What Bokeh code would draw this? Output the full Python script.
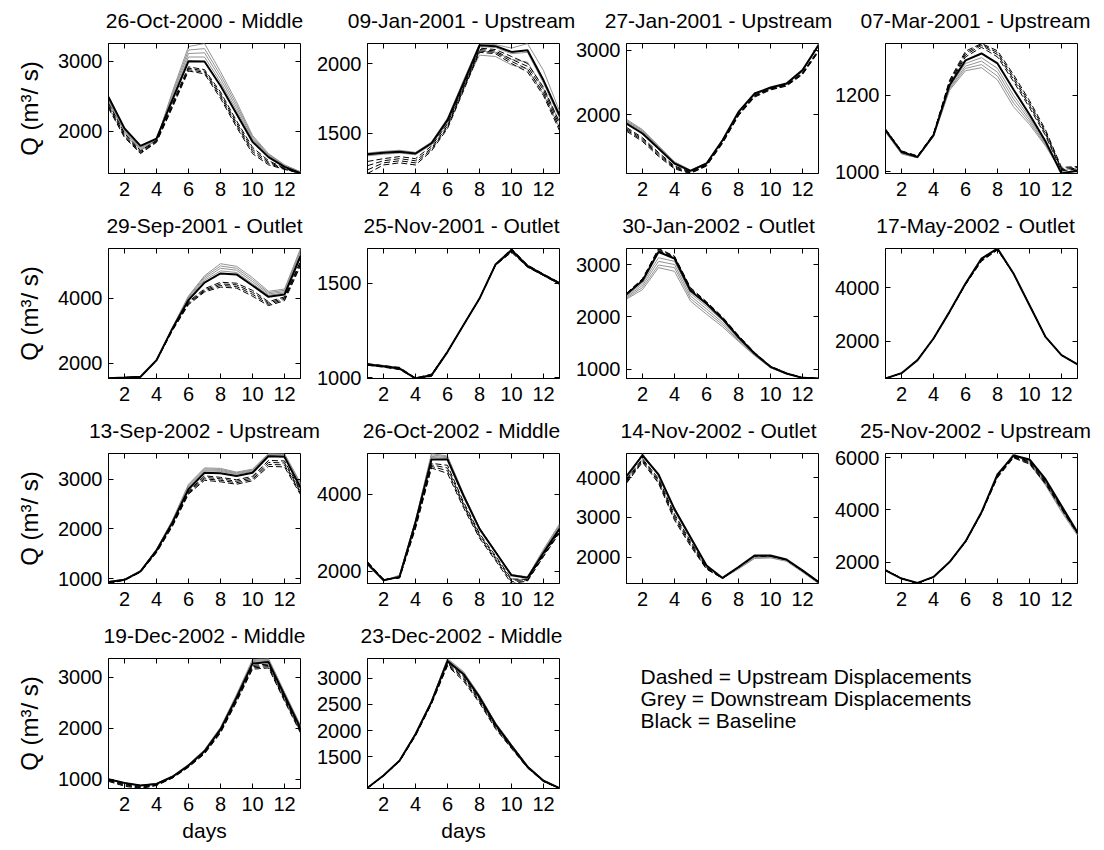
from bokeh.plotting import figure
from bokeh.models import Range1d, FixedTicker, LinearAxis, Label
from bokeh.layouts import row, column
from bokeh.embed import file_html
from bokeh.resources import INLINE

FONT = "Liberation Sans"

days = list(range(1, 14))
x_ticks = [2, 4, 6, 8, 10, 12]

titles = [
    "26-Oct-2000 - Middle", "09-Jan-2001 - Upstream", "27-Jan-2001 - Upstream", "07-Mar-2001 - Upstream",
    "29-Sep-2001 - Outlet", "25-Nov-2001 - Outlet", "30-Jan-2002 - Outlet", "17-May-2002 - Outlet",
    "13-Sep-2002 - Upstream", "26-Oct-2002 - Middle", "14-Nov-2002 - Outlet", "25-Nov-2002 - Upstream",
    "19-Dec-2002 - Middle", "23-Dec-2002 - Middle",
]

y_ticks = [
    [2000, 3000], [1500, 2000], [2000, 3000], [1000, 1200],
    [2000, 4000], [1000, 1500], [1000, 2000, 3000], [2000, 4000],
    [1000, 2000, 3000], [2000, 4000], [2000, 3000, 4000], [2000, 4000, 6000],
    [1000, 2000, 3000], [1500, 2000, 2500, 3000],
]

legend_texts = ["Dashed = Upstream Displacements", "Grey = Downstream Displacements", "Black = Baseline"]

# ---- panel 1
base1 = [2490, 2040, 1790, 1895, 2450, 3000, 2995, 2650, 2250, 1850, 1630, 1490, 1400]
grey1 = [[2470, 2030, 1770, 1890, 2480, 3060, 3060, 2700, 2300, 1880, 1650, 1505, 1410],
         [2450, 2020, 1755, 1885, 2510, 3110, 3120, 2750, 2340, 1900, 1660, 1510, 1415],
         [2430, 2005, 1740, 1878, 2540, 3160, 3180, 2800, 2380, 1920, 1670, 1515, 1418],
         [2410, 1990, 1725, 1870, 2570, 3210, 3253, 2850, 2420, 1940, 1680, 1520, 1420]]
dash1 = [[2400, 1970, 1720, 1870, 2400, 2920, 2880, 2560, 2150, 1770, 1580, 1470, 1400],
         [2370, 1950, 1705, 1860, 2380, 2900, 2860, 2530, 2120, 1740, 1560, 1465, 1398],
         [2350, 1930, 1690, 1850, 2360, 2880, 2840, 2500, 2090, 1710, 1540, 1460, 1397],
         [2330, 1910, 1680, 1840, 2340, 2860, 2820, 2470, 2060, 1680, 1520, 1455, 1396]]
# ---- panel 2
base2 = [1352, 1362, 1370, 1357, 1430, 1595, 1860, 2130, 2124, 2083, 2095, 1880, 1630]
grey2 = [[1360, 1372, 1380, 1365, 1440, 1610, 1880, 2140, 2135, 2110, 2143, 1950, 1660],
         [1355, 1368, 1375, 1360, 1435, 1600, 1865, 2120, 2115, 2070, 2080, 1860, 1610],
         [1345, 1358, 1365, 1352, 1425, 1585, 1845, 2090, 2080, 2030, 2010, 1820, 1580],
         [1340, 1352, 1360, 1348, 1420, 1575, 1830, 2060, 2050, 1990, 1960, 1780, 1540]]
dash2 = [[1300, 1320, 1335, 1320, 1410, 1570, 1840, 2110, 2100, 2050, 2000, 1830, 1580],
         [1270, 1305, 1320, 1305, 1395, 1555, 1825, 2100, 2090, 2030, 1980, 1810, 1560],
         [1240, 1290, 1305, 1290, 1385, 1545, 1815, 2090, 2080, 2015, 1960, 1790, 1540],
         [1214, 1275, 1290, 1275, 1375, 1535, 1805, 2080, 2070, 2000, 1940, 1770, 1520]]
# ---- panel 3
base3 = [1860, 1705, 1471, 1238, 1124, 1238, 1600, 2040, 2326, 2420, 2482, 2690, 3078]
grey3 = [[1880, 1725, 1485, 1245, 1128, 1240, 1598, 2035, 2320, 2415, 2478, 2685, 3060],
         [1895, 1740, 1495, 1250, 1130, 1242, 1596, 2030, 2315, 2410, 2474, 2680, 3080],
         [1910, 1752, 1505, 1258, 1133, 1244, 1594, 2028, 2312, 2406, 2470, 2676, 3095],
         [1925, 1765, 1515, 1265, 1136, 1246, 1592, 2025, 2310, 2402, 2466, 2672, 3104]]
dash3 = [[1800, 1640, 1410, 1200, 1110, 1220, 1580, 2010, 2300, 2405, 2465, 2650, 3010],
         [1780, 1620, 1390, 1185, 1100, 1212, 1570, 2000, 2290, 2398, 2458, 2640, 2995],
         [1760, 1600, 1370, 1170, 1092, 1205, 1560, 1990, 2280, 2390, 2450, 2630, 2985],
         [1740, 1580, 1350, 1155, 1083, 1198, 1550, 1980, 2270, 2382, 2442, 2620, 2975]]
# ---- panel 4
base4 = [1109, 1052, 1039, 1096, 1226, 1291, 1309, 1283, 1215, 1150, 1080, 996, 1004]
grey4 = [[1107, 1050, 1038, 1095, 1222, 1283, 1298, 1270, 1200, 1142, 1077, 997, 1003],
         [1106, 1049, 1038, 1094, 1219, 1276, 1289, 1260, 1190, 1136, 1074, 998, 1002],
         [1105, 1048, 1037, 1093, 1216, 1270, 1280, 1250, 1180, 1130, 1071, 999, 1001],
         [1104, 1047, 1037, 1092, 1213, 1264, 1272, 1240, 1170, 1124, 1068, 1000, 1000]]
dash4 = [[1110, 1053, 1040, 1097, 1230, 1300, 1325, 1300, 1236, 1168, 1095, 1003, 1008],
         [1111, 1054, 1041, 1098, 1233, 1305, 1330, 1306, 1242, 1174, 1100, 1006, 1010],
         [1111, 1054, 1041, 1098, 1236, 1310, 1333, 1311, 1248, 1180, 1105, 1009, 1012],
         [1112, 1055, 1042, 1099, 1239, 1315, 1335, 1316, 1254, 1186, 1110, 1012, 1014]]
# ---- panel 5
base5 = [1545, 1565, 1590, 2100, 3080, 3950, 4490, 4770, 4740, 4400, 4050, 4120, 5300]
grey5 = [[1545, 1565, 1592, 2105, 3090, 3990, 4560, 4850, 4800, 4460, 4100, 4170, 5380],
         [1545, 1566, 1594, 2108, 3100, 4020, 4610, 4930, 4870, 4520, 4140, 4210, 5440],
         [1546, 1566, 1596, 2110, 3110, 4050, 4660, 5000, 4930, 4580, 4180, 4250, 5490],
         [1546, 1567, 1598, 2112, 3120, 4080, 4700, 5070, 4990, 4640, 4220, 4290, 5538]]
dash5 = [[1540, 1562, 1588, 2095, 3060, 3900, 4300, 4500, 4470, 4250, 3900, 4050, 5150],
         [1540, 1561, 1587, 2092, 3045, 3870, 4260, 4450, 4420, 4190, 3860, 4010, 5100],
         [1539, 1560, 1586, 2090, 3030, 3840, 4230, 4400, 4370, 4130, 3820, 3970, 5050],
         [1538, 1560, 1585, 2088, 3015, 3810, 4200, 4350, 4320, 4070, 3780, 3930, 5000]]
# ---- panel 6
base6 = [1071, 1062, 1050, 997, 1014, 1138, 1280, 1420, 1600, 1676, 1592, 1546, 1500]
grey6 = [[1073, 1064, 1052, 999, 1016, 1139, 1281, 1421, 1602, 1680, 1595, 1548, 1502],
         [1075, 1066, 1054, 1001, 1018, 1140, 1282, 1422, 1604, 1683, 1598, 1550, 1504],
         [1069, 1060, 1048, 998, 1012, 1137, 1279, 1419, 1598, 1672, 1590, 1544, 1498],
         [1067, 1058, 1046, 999, 1010, 1136, 1278, 1418, 1596, 1668, 1588, 1542, 1496]]
dash6 = [[1075, 1065, 1056, 1000, 1020, 1140, 1280, 1420, 1602, 1685, 1598, 1550, 1505],
         [1073, 1063, 1053, 998, 1017, 1139, 1280, 1420, 1600, 1680, 1595, 1548, 1503],
         [1069, 1059, 1047, 998, 1011, 1137, 1280, 1420, 1598, 1672, 1589, 1544, 1497],
         [1067, 1057, 1044, 997, 1008, 1136, 1280, 1420, 1596, 1665, 1586, 1542, 1495]]
# ---- panel 7
base7 = [2430, 2690, 3240, 3115, 2500, 2250, 1960, 1610, 1300, 1045, 917, 834, 822]
grey7 = [[2400, 2640, 3130, 3060, 2450, 2200, 1930, 1590, 1290, 1040, 915, 833, 822],
         [2380, 2600, 3060, 3000, 2400, 2150, 1890, 1570, 1280, 1035, 913, 832, 822],
         [2360, 2560, 2990, 2940, 2350, 2100, 1850, 1550, 1270, 1030, 911, 831, 822],
         [2340, 2520, 2940, 2870, 2300, 2050, 1810, 1530, 1260, 1025, 909, 830, 822]]
dash7 = [[2440, 2710, 3270, 3140, 2530, 2270, 1980, 1625, 1310, 1050, 920, 836, 823],
         [2445, 2720, 3290, 3150, 2545, 2280, 1990, 1635, 1315, 1055, 922, 837, 823],
         [2450, 2730, 3306, 3160, 2560, 2290, 2000, 1645, 1320, 1060, 924, 838, 824],
         [2435, 2700, 3255, 3125, 2515, 2260, 1970, 1618, 1305, 1048, 919, 835, 823]]
# ---- panel 8
base8 = [601, 800, 1290, 2100, 3100, 4160, 5100, 5477, 4540, 3350, 2160, 1480, 1130]
grey8 = [[602, 803, 1294, 2106, 3108, 4168, 5108, 5472, 4548, 3358, 2166, 1484, 1133],
         [603, 805, 1297, 2110, 3114, 4174, 5114, 5468, 4554, 3364, 2170, 1487, 1135],
         [600, 797, 1286, 2094, 3092, 4152, 5092, 5470, 4532, 3342, 2154, 1477, 1127],
         [600, 795, 1283, 2090, 3086, 4146, 5086, 5466, 4526, 3336, 2150, 1474, 1125]]
dash8 = [[601, 801, 1292, 2102, 3102, 4150, 5060, 5450, 4538, 3352, 2162, 1481, 1131],
         [601, 801, 1292, 2102, 3098, 4140, 5040, 5440, 4536, 3350, 2160, 1480, 1130],
         [601, 799, 1288, 2098, 3094, 4130, 5020, 5430, 4534, 3348, 2158, 1479, 1129],
         [601, 799, 1288, 2096, 3090, 4120, 5000, 5420, 4532, 3346, 2156, 1478, 1128]]
# ---- panel 9
base9 = [930, 975, 1146, 1566, 2132, 2800, 3132, 3120, 3066, 3132, 3466, 3452, 2832]
grey9 = [[932, 978, 1150, 1575, 2150, 2840, 3170, 3160, 3100, 3160, 3485, 3470, 2870],
         [934, 980, 1153, 1580, 2160, 2860, 3190, 3180, 3115, 3175, 3500, 3485, 2890],
         [936, 982, 1156, 1585, 2170, 2880, 3210, 3200, 3130, 3190, 3510, 3500, 2910],
         [938, 984, 1160, 1590, 2180, 2900, 3230, 3220, 3145, 3205, 3520, 3515, 2930]]
dash9 = [[928, 972, 1140, 1550, 2100, 2760, 3070, 3040, 2990, 3060, 3380, 3370, 2780],
         [926, 970, 1136, 1540, 2085, 2740, 3040, 3010, 2960, 3030, 3340, 3330, 2750],
         [924, 968, 1132, 1530, 2070, 2720, 3010, 2980, 2930, 3000, 3300, 3290, 2720],
         [900, 966, 1128, 1520, 2055, 2700, 2980, 2950, 2900, 2970, 3260, 3250, 2690]]
# ---- panel 10
base10 = [2200, 1770, 1855, 3270, 4900, 4900, 3960, 3100, 2500, 1895, 1830, 2480, 3100]
grey10 = [[2180, 1760, 1870, 3290, 4950, 4930, 3980, 3110, 2505, 1900, 1840, 2510, 3140],
          [2170, 1755, 1880, 3300, 4980, 4950, 3990, 3115, 2508, 1905, 1845, 2530, 3170],
          [2160, 1750, 1890, 3310, 5020, 4970, 4000, 3120, 2510, 1910, 1850, 2550, 3200],
          [2150, 1745, 1900, 3320, 5056, 4990, 4010, 3125, 2512, 1915, 1855, 2570, 3230]]
dash10 = [[2220, 1780, 1840, 3200, 4800, 4750, 3800, 2980, 2400, 1800, 1790, 2440, 3050],
          [2230, 1785, 1835, 3170, 4760, 4680, 3750, 2940, 2360, 1770, 1775, 2420, 3030],
          [2240, 1790, 1830, 3140, 4720, 4610, 3700, 2900, 2320, 1730, 1760, 2400, 3010],
          [2250, 1795, 1825, 3110, 4680, 4540, 3650, 2860, 2280, 1683, 1745, 2380, 2990]]
# ---- panel 11
base11 = [4040, 4560, 4085, 3210, 2500, 1790, 1475, 1750, 2040, 2040, 1940, 1665, 1375]
grey11 = [[3990, 4580, 4070, 3190, 2490, 1780, 1470, 1730, 2010, 2015, 1925, 1650, 1365],
          [3970, 4590, 4060, 3180, 2480, 1775, 1468, 1720, 1995, 2000, 1915, 1640, 1355],
          [3950, 4600, 4050, 3170, 2470, 1770, 1466, 1710, 1980, 1990, 1905, 1630, 1345],
          [3930, 4610, 4040, 3160, 2460, 1765, 1464, 1700, 1965, 1980, 1895, 1620, 1335]]
dash11 = [[3950, 4480, 3980, 3080, 2400, 1740, 1470, 1745, 2035, 2035, 1935, 1660, 1370],
          [3920, 4450, 3940, 3030, 2360, 1725, 1468, 1742, 2032, 2032, 1932, 1657, 1368],
          [3890, 4420, 3900, 2980, 2320, 1710, 1466, 1740, 2030, 2030, 1930, 1655, 1366],
          [3860, 4390, 3860, 2930, 2280, 1695, 1464, 1738, 2028, 2028, 1928, 1653, 1364]]
# ---- panel 12
base12 = [1684, 1366, 1200, 1430, 2000, 2790, 3910, 5370, 6090, 5940, 5180, 4160, 3145]
grey12 = [[1684, 1366, 1198, 1430, 2000, 2790, 3910, 5350, 6110, 5900, 5120, 4100, 3110],
          [1684, 1366, 1195, 1430, 2000, 2790, 3910, 5330, 6130, 5860, 5060, 4040, 3080],
          [1684, 1366, 1190, 1430, 2000, 2790, 3910, 5310, 6150, 5820, 5000, 3980, 3050],
          [1684, 1366, 1185, 1430, 2000, 2790, 3910, 5290, 6168, 5780, 4950, 3930, 3020]]
dash12 = [[1690, 1370, 1185, 1428, 1995, 2785, 3900, 5330, 6060, 5880, 5120, 4120, 3130],
          [1694, 1373, 1180, 1426, 1990, 2780, 3890, 5300, 6040, 5840, 5080, 4090, 3115],
          [1698, 1376, 1178, 1424, 1985, 2775, 3880, 5270, 6020, 5800, 5040, 4060, 3100],
          [1702, 1379, 1177, 1422, 1980, 2770, 3870, 5240, 6000, 5760, 5000, 4030, 3085]]
# ---- panel 13
base13 = [1000, 930, 880, 910, 1050, 1270, 1550, 1980, 2600, 3270, 3300, 2650, 2000]
grey13 = [[1000, 930, 880, 912, 1054, 1276, 1558, 1990, 2615, 3290, 3318, 2665, 2015],
          [1000, 930, 880, 914, 1058, 1282, 1566, 2000, 2630, 3310, 3335, 2680, 2030],
          [1000, 930, 880, 916, 1062, 1288, 1574, 2010, 2645, 3330, 3352, 2695, 2045],
          [1000, 930, 880, 918, 1066, 1294, 1582, 2020, 2660, 3350, 3370, 2710, 2060]]
dash13 = [[990, 910, 860, 900, 1042, 1260, 1535, 1960, 2575, 3235, 3260, 2610, 1970],
          [980, 895, 845, 892, 1036, 1252, 1522, 1942, 2555, 3210, 3235, 2585, 1950],
          [970, 880, 832, 885, 1030, 1244, 1510, 1925, 2535, 3185, 3210, 2560, 1930],
          [960, 865, 820, 878, 1024, 1236, 1498, 1908, 2515, 3160, 3185, 2535, 1910]]
# ---- panel 14
base14 = [905, 1140, 1425, 1930, 2550, 3330, 3080, 2640, 2120, 1710, 1310, 1040, 900]
grey14 = [[905, 1141, 1428, 1935, 2556, 3340, 3092, 2650, 2128, 1716, 1314, 1042, 900],
          [905, 1142, 1431, 1940, 2562, 3350, 3104, 2660, 2136, 1722, 1318, 1044, 900],
          [905, 1143, 1434, 1945, 2568, 3365, 3116, 2670, 2144, 1728, 1322, 1046, 900],
          [905, 1144, 1437, 1950, 2574, 3380, 3128, 2680, 2152, 1734, 1326, 1048, 900]]
dash14 = [[903, 1138, 1420, 1922, 2540, 3300, 3040, 2605, 2095, 1695, 1302, 1036, 898],
          [901, 1136, 1416, 1914, 2530, 3280, 3010, 2580, 2075, 1682, 1296, 1032, 896],
          [899, 1134, 1412, 1906, 2520, 3260, 2980, 2555, 2055, 1669, 1290, 1028, 894],
          [897, 1132, 1408, 1898, 2510, 3240, 2950, 2530, 2035, 1656, 1284, 1024, 892]]

bases = [base1, base2, base3, base4, base5, base6, base7, base8, base9, base10, base11, base12, base13, base14]
greys = [grey1, grey2, grey3, grey4, grey5, grey6, grey7, grey8, grey9, grey10, grey11, grey12, grey13, grey14]
dashes = [dash1, dash2, dash3, dash4, dash5, dash6, dash7, dash8, dash9, dash10, dash11, dash12, dash13, dash14]

# ---- layout constants (pixels)
FW, FH = 192, 130
LEFT0, LEFTN, RIGHT = 108, 51, 14
TOP, BOTTOM, BOTTOM_LAST = 6, 40, 55
STRIP0, STRIP = 37, 29
fig_w = [LEFT0 + FW + RIGHT] + [LEFTN + FW + RIGHT] * 3
TOTAL_W = sum(fig_w)
STRIP_W = TOTAL_W + 14
frame_left = [LEFT0, fig_w[0] + LEFTN, fig_w[0] + fig_w[1] + LEFTN, fig_w[0] + fig_w[1] + fig_w[2] + LEFTN]


def style_axis(ax, standoff):
    ax.axis_line_color = "black"
    ax.axis_line_width = 1
    ax.major_tick_in = 5
    ax.major_tick_out = 0
    ax.minor_tick_in = 0
    ax.minor_tick_out = 0
    ax.major_tick_line_color = "black"
    ax.major_label_text_font = FONT
    ax.major_label_text_font_size = "20px"
    ax.major_label_text_color = "black"
    ax.major_label_standoff = standoff
    ax.axis_label_text_font = FONT
    ax.axis_label_text_font_style = "normal"
    ax.axis_label_text_color = "black"


def make_panel(i):
    c, r = i % 4, i // 4
    allv = bases[i] + [v for s in greys[i] for v in s] + [v for s in dashes[i] for v in s]
    p = figure(frame_width=FW, frame_height=FH,
               x_range=Range1d(1, 13), y_range=Range1d(min(allv), max(allv)),
               output_backend="svg", toolbar_location=None, tools="", title=None,
               min_border_left=LEFT0 if c == 0 else LEFTN, min_border_right=RIGHT,
               min_border_top=TOP, min_border_bottom=BOTTOM_LAST if r == 3 else BOTTOM)
    p.grid.visible = False
    p.outline_line_color = "black"
    p.outline_line_alpha = 1
    p.xaxis.ticker = FixedTicker(ticks=x_ticks)
    p.yaxis.ticker = FixedTicker(ticks=y_ticks[i])
    style_axis(p.xaxis[0], 8)
    style_axis(p.yaxis[0], 6)
    if c == 0:
        p.yaxis.axis_label = "Q (m³/ s)"
        p.yaxis.axis_label_text_font_size = "24px"
        p.yaxis.axis_label_standoff = 12
    if r == 3:
        p.xaxis.axis_label = "days"
        p.xaxis.axis_label_text_font_size = "21px"
        p.xaxis.axis_label_standoff = 5
    for loc, tk in (("above", x_ticks), ("right", y_ticks[i])):
        ax = LinearAxis(ticker=FixedTicker(ticks=tk), axis_line_color=None,
                        major_tick_in=5, major_tick_out=0, minor_tick_in=0, minor_tick_out=0,
                        major_label_text_font_size="1px", major_label_text_color=None,
                        major_label_standoff=0)
        p.add_layout(ax, loc)
    for s in greys[i]:
        p.line(days, s, line_color="#939393", line_width=1)
    for s in dashes[i]:
        p.line(days, s, line_color="black", line_width=1, line_dash="6 3")
    p.line(days, bases[i], line_color="black", line_width=2)
    return p


def blank(w, h):
    f = figure(width=w, height=h, x_range=Range1d(0, w), y_range=Range1d(0, h),
               output_backend="svg", toolbar_location=None, tools="", title=None, min_border=0,
               x_axis_location=None, y_axis_location=None, outline_line_color=None)
    f.grid.visible = False
    return f


def title_strip(h, idxs):
    s = blank(STRIP_W, h)
    for k, i in enumerate(idxs):
        s.add_layout(Label(x=frame_left[k] + FW / 2, y=17, text=titles[i], text_font=FONT,
                           text_font_size="21px", text_align="center", text_baseline="alphabetic",
                           text_color="black"))
    return s


panels = [make_panel(i) for i in range(14)]

# legend panel: its frame lines up with the frames of the last row
leg_w = TOTAL_W - fig_w[0] - fig_w[1]
leg = figure(frame_width=leg_w, frame_height=FH, x_range=Range1d(0, leg_w), y_range=Range1d(0, FH),
             output_backend="svg", toolbar_location=None, tools="", title=None,
             min_border_left=0, min_border_right=0, min_border_top=TOP, min_border_bottom=BOTTOM_LAST,
             x_axis_location=None, y_axis_location=None, outline_line_color=None)
leg.grid.visible = False
for t, yy in zip(legend_texts, [112, 90, 68]):
    leg.add_layout(Label(x=67, y=yy, text=t, text_font=FONT, text_font_size="21px",
                         text_baseline="middle", text_color="black"))

layout = column(
    title_strip(STRIP0, range(0, 4)), row(*panels[0:4]),
    title_strip(STRIP, range(4, 8)), row(*panels[4:8]),
    title_strip(STRIP, range(8, 12)), row(*panels[8:12]),
    title_strip(STRIP, range(12, 14)), row(panels[12], panels[13], leg),
)

open("out.html", "w").write(file_html(layout, INLINE))
